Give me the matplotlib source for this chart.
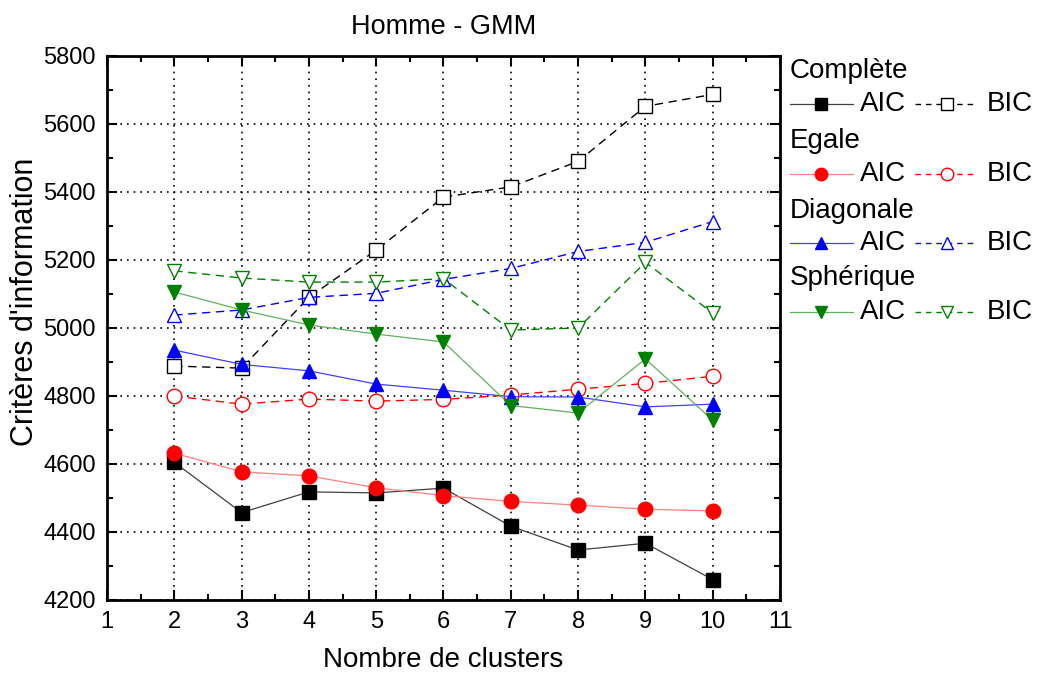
import matplotlib.pyplot as plt
from matplotlib.lines import Line2D
from matplotlib.ticker import MultipleLocator

plt.rcParams['font.family'] = ['Liberation Sans', 'DejaVu Sans']

clusters = [2, 3, 4, 5, 6, 7, 8, 9, 10]

complete_aic = [4605, 4457, 4518, 4515, 4529, 4417, 4347, 4367, 4260]
complete_bic = [4888, 4882, 5090, 5229, 5385, 5415, 5490, 5652, 5687]
egale_aic = [4632, 4577, 4565, 4530, 4507, 4490, 4479, 4467, 4462]
egale_bic = [4800, 4776, 4791, 4785, 4790, 4803, 4820, 4837, 4858]
diag_aic = [4935, 4893, 4874, 4835, 4817, 4798, 4797, 4768, 4776]
diag_bic = [5038, 5053, 5090, 5102, 5143, 5175, 5225, 5252, 5313]
spher_aic = [5106, 5053, 5009, 4982, 4959, 4772, 4750, 4909, 4729]
spher_bic = [5168, 5147, 5135, 5135, 5145, 4994, 5000, 5193, 5044]

groups = ['Complète', 'Egale', 'Diagonale', 'Sphérique']

# (aic values, bic values, aic line colour, marker colour, bic colour, aic marker, bic marker)
styles = [
    (complete_aic, complete_bic, '#404040', 'black', 'black', 's', 's'),
    (egale_aic, egale_bic, '#ff8080', 'red', 'red', 'o', 'o'),
    (diag_aic, diag_bic, '#4040ff', 'blue', 'blue', '^', '^'),
    (spher_aic, spher_bic, '#60b060', 'green', 'green', 'v', 'v'),
]

fig = plt.figure(figsize=(10.41, 6.76), dpi=100)
ax = fig.add_axes([107 / 1041, 1 - 600 / 676, (780 - 107) / 1041, (600 - 56) / 676])

for aic, bic, lc, mc, bc, ma, mb in styles:
    ax.plot(clusters, bic, linestyle=(0, (6, 4)), color=bc, lw=1.0,
            marker=mb, markersize=10.5, markerfacecolor='white',
            markeredgecolor=bc, markeredgewidth=1.0, zorder=3)
for aic, bic, lc, mc, bc, ma, mb in styles:
    ax.plot(clusters, aic, linestyle='-', color=lc, lw=0.9,
            marker=ma, markersize=10.5, markerfacecolor=mc,
            markeredgecolor=mc, zorder=4)

ax.set_xlim(1, 11)
ax.set_ylim(4200, 5800)
ax.xaxis.set_major_locator(MultipleLocator(1))
ax.xaxis.set_minor_locator(MultipleLocator(0.5))
ax.yaxis.set_major_locator(MultipleLocator(200))
ax.yaxis.set_minor_locator(MultipleLocator(100))
ax.tick_params(which='both', direction='in', top=True, right=True,
               width=1.5, labelsize=17)
ax.tick_params(which='major', length=7, pad=8)
ax.tick_params(which='minor', length=4)
for sp in ax.spines.values():
    sp.set_linewidth(2)
ax.grid(True, which='major', linestyle=(0, (1, 3)), color='black', lw=1.2)

ax.set_xlabel('Nombre de clusters', fontsize=20, labelpad=10)
ax.set_ylabel("Critères d'information", fontsize=22)
ax.yaxis.set_label_coords(-0.099, 0.548)
ax.set_title('Homme - GMM', fontsize=19.5, pad=16)

# legend drawn by hand outside the axes
W, H = 1041, 676
title_y = [71, 141, 211, 278]
row_y = [104, 174, 243, 312]
for g, ty, ry, st in zip(groups, title_y, row_y, styles):
    aic, bic, lc, mc, bc, ma, mb = st
    fig.text(790 / W, 1 - ty / H, g, fontsize=20, va='center', ha='left')
    fig.add_artist(Line2D([790 / W, 853 / W], [1 - ry / H] * 2, color=lc, lw=0.9))
    fig.add_artist(Line2D([821 / W], [1 - ry / H], marker=ma, markersize=9,
                          color=mc, linestyle='none'))
    fig.text(860 / W, 1 - ry / H, 'AIC', fontsize=20, va='center', ha='left')
    fig.add_artist(Line2D([915 / W, 975 / W], [1 - ry / H] * 2, color=bc, lw=1.0,
                          linestyle=(0, (4, 3.5))))
    fig.add_artist(Line2D([947 / W], [1 - ry / H], marker=mb, markersize=9,
                          markerfacecolor='white', markeredgecolor=bc,
                          linestyle='none'))
    fig.text(987 / W, 1 - ry / H, 'BIC', fontsize=20, va='center', ha='left')

fig.savefig('out.png', dpi=100)
